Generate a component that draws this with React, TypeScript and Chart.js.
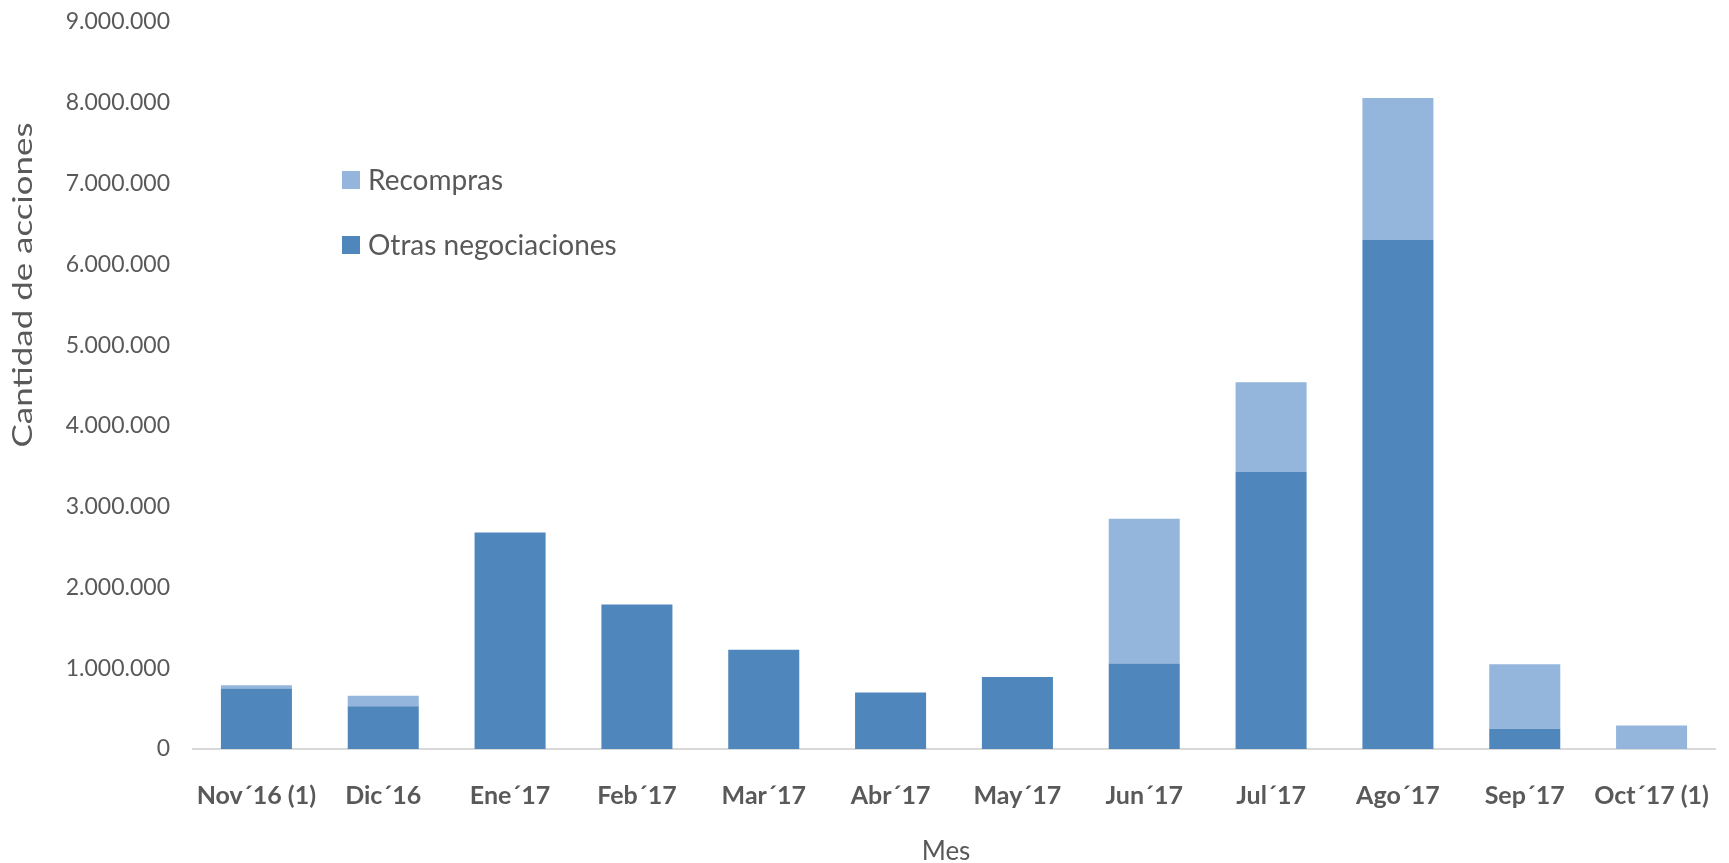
import React, { useEffect, useRef } from "react";
import { Chart, registerables } from "chart.js";

Chart.register(...registerables);

const categories = ["Nov´16 (1)", "Dic´16", "Ene´17", "Feb´17", "Mar´17", "Abr´17", "May´17", "Jun´17", "Jul´17", "Ago´17", "Sep´17", "Oct´17 (1)"];
const otrasNegociaciones = [750000, 530000, 2680000, 1790000, 1230000, 700000, 890000, 1060000, 3430000, 6300000, 250000, 0];
const recompras = [40000, 130000, 0, 0, 0, 0, 0, 1790000, 1110000, 1760000, 800000, 290000];
const yTicksMax = 9000000;
const yTickStep = 1000000;
const yTitle = "Cantidad de acciones";
const xTitle = "Mes";

const DARK = "#4F87BC";
const LIGHT = "#95B6DC";
const TEXT = "#595959";

const fmt = (v: number) => String(Math.round(v)).replace(/\B(?=(\d{3})+(?!\d))/g, ".");

const overlayPlugin = {
  id: "overlay",
  afterDraw(chart: any) {
    const ctx = chart.ctx;
    const area = chart.chartArea;
    ctx.save();
    const items = [
      { label: chart.data.datasets[1].label, color: chart.data.datasets[1].backgroundColor, y: 180 },
      { label: chart.data.datasets[0].label, color: chart.data.datasets[0].backgroundColor, y: 245 },
    ];
    ctx.font = "28px Lato";
    ctx.textBaseline = "middle";
    ctx.textAlign = "left";
    for (const it of items) {
      ctx.fillStyle = it.color;
      ctx.fillRect(342, it.y - 9, 18, 18);
      ctx.fillStyle = TEXT;
      ctx.fillText(it.label, 368, it.y + 1);
    }
    ctx.font = "26px Lato";
    ctx.textAlign = "center";
    ctx.fillStyle = TEXT;
    ctx.fillText(xTitle, (area.left + area.right) / 2 - 8, 852);
    ctx.translate(24, 285);
    ctx.rotate(-Math.PI / 2);
    ctx.font = "26px Lato";
    const w = ctx.measureText(yTitle).width;
    ctx.scale(325 / w, 1);
    ctx.fillText(yTitle, 0, 0);
    ctx.restore();
  },
};

export default function App() {
  const ref = useRef<HTMLCanvasElement | null>(null);
  useEffect(() => {
    document.body.style.margin = "0";
    document.body.style.overflow = "hidden";
    const chart = new Chart(ref.current as HTMLCanvasElement, {
      type: "bar",
      data: {
        labels: categories,
        datasets: [
          { label: "Otras negociaciones", data: otrasNegociaciones, backgroundColor: DARK, borderWidth: 0 },
          { label: "Recompras", data: recompras, backgroundColor: LIGHT, borderWidth: 0 },
        ],
      },
      options: {
        responsive: false,
        animation: false,
        devicePixelRatio: 1,
        layout: { padding: { top: 22, right: 14, left: 0, bottom: 0 } },
        datasets: { bar: { categoryPercentage: 1, barPercentage: 0.56 } },
        plugins: { legend: { display: false }, tooltip: { enabled: false } },
        scales: {
          x: {
            stacked: true,
            grid: { display: true, color: "rgba(0,0,0,0)", drawTicks: false },
            border: { display: true, color: "#D9D9D9", width: 2 },
            ticks: { color: TEXT, font: { family: "Lato", size: 25, weight: "bold" }, padding: 32, maxRotation: 0, autoSkip: false },
            afterFit: (s: any) => { s.height = 114; s.paddingLeft = 0; s.paddingRight = 0; },
          },
          y: {
            stacked: true,
            min: 0,
            max: yTicksMax,
            grid: { display: false, drawTicks: false },
            border: { display: false },
            ticks: { stepSize: yTickStep, color: TEXT, font: { family: "Lato", size: 23 }, padding: 23, callback: (v: any) => fmt(Number(v)) },
            afterFit: (s: any) => { s.width = 193; s.paddingTop = 0; s.paddingBottom = 0; },
          },
        },
      },
      plugins: [overlayPlugin],
    } as any);
    return () => chart.destroy();
  }, []);
  return <canvas ref={ref} width={1729} height={863} style={{ display: "block" }} />;
}
